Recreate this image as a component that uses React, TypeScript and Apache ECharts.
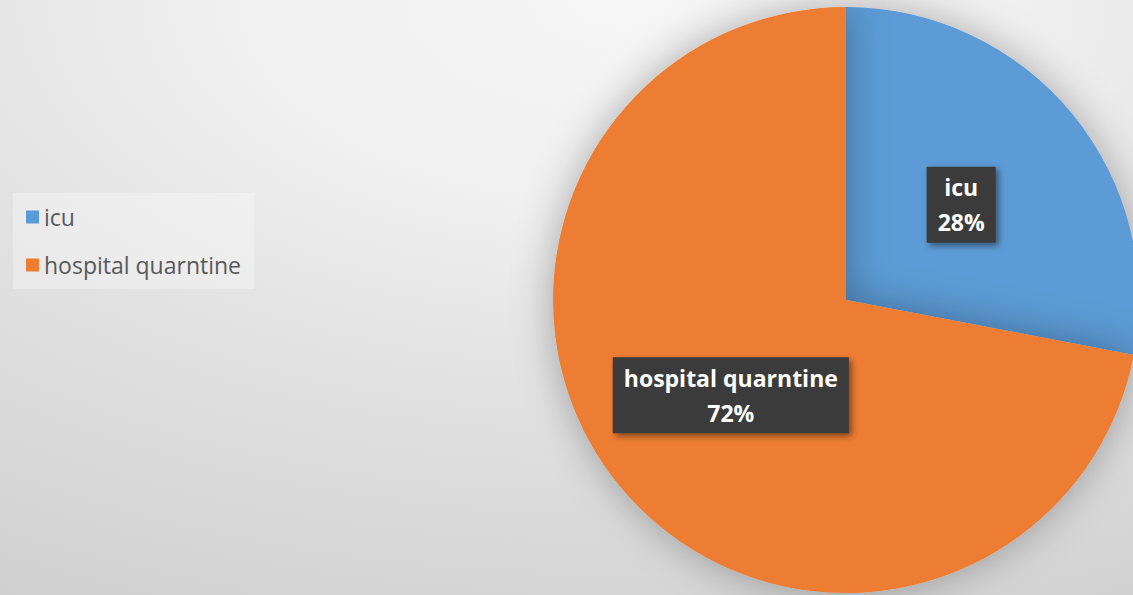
import React, { useEffect, useRef } from "react";
import * as echarts from "echarts";

const categories = ["icu", "hospital quarntine"];
const values = [28, 72];
const colors = ["#5B9BD5", "#ED7D31"];

export default function App() {
  const ref = useRef<HTMLDivElement>(null);
  useEffect(() => {
    document.body.style.margin = "0";
    const chart = echarts.init(ref.current!, null, { renderer: "svg" });
    chart.setOption({
      animation: false,
      backgroundColor: new echarts.graphic.RadialGradient(0.55, 0, 1.4, [
        { offset: 0, color: "#f6f6f6" },
        { offset: 0.25, color: "#f0f0f0" },
        { offset: 0.45, color: "#e3e3e3" },
        { offset: 0.7, color: "#d6d6d6" },
        { offset: 1, color: "#c6c6c6" },
      ]),
      legend: {
        orient: "vertical",
        left: 13,
        top: 193,
        backgroundColor: "rgba(255,255,255,0.3)",
        padding: [11, 13, 11, 13],
        itemWidth: 13,
        itemHeight: 13,
        itemGap: 22,
        icon: "rect",
        data: categories,
        textStyle: {
          fontFamily: "Open Sans",
          fontSize: 23,
          lineHeight: 26,
          color: "#595959",
        },
      },
      series: [
        {
          type: "pie",
          center: [846, 300],
          radius: 293,
          startAngle: 90,
          clockwise: true,
          data: categories.map((c, i) => ({
            name: c,
            value: values[i],
            itemStyle: { color: colors[i] },
          })),
          itemStyle: {
            shadowBlur: 40,
            shadowColor: "rgba(0,0,0,0.3)",
          },
          label: {
            position: "inside",
            formatter: "{b}\n{d}%",
            fontFamily: "Open Sans",
            fontWeight: "bold",
            fontSize: 23,
            lineHeight: 35,
            color: "#ffffff",
            backgroundColor: "#3a3a3a",
            padding: [3, 11],
            shadowBlur: 6,
            shadowColor: "rgba(0,0,0,0.45)",
            shadowOffsetX: 3,
            shadowOffsetY: 3,
          },
          labelLine: { show: false },
        },
      ],
    });
    return () => chart.dispose();
  }, []);
  return <div ref={ref} style={{ width: 1133, height: 595 }} />;
}
